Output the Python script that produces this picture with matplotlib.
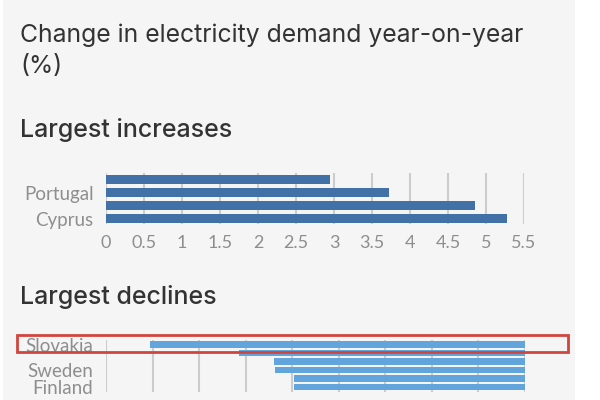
import matplotlib
matplotlib.use("Agg")
import matplotlib.pyplot as plt
from matplotlib.patches import Rectangle

# data
inc_labels = ["", "Portugal", "", "Cyprus"]
inc_values = [2.95, 3.73, 4.86, 5.28]
inc_ticks = [0, 0.5, 1, 1.5, 2, 2.5, 3, 3.5, 4, 4.5, 5, 5.5]

dec_labels = ["Slovakia", "", "", "Sweden", "", "Finland"]
dec_values = [-8.05, -6.15, -5.4, -5.37, -4.97, -4.97]
dec_ticks = [-9, -8, -7, -6, -5, -4, -3, -2, -1, 0]

plt.rcParams['font.family'] = ['Inter', 'DejaVu Sans']

fig = plt.figure(figsize=(6, 4), dpi=100)
fig.patch.set_facecolor("white")
# light grey card behind everything
fig.patches.append(Rectangle((3 / 600, 0), 572 / 600, 1, transform=fig.transFigure,
                             facecolor="#f5f5f5", edgecolor="none", zorder=-10))

fig.text(20 / 600, 1 - 35 / 400, "Change in electricity demand year-on-year",
         fontsize=17.8, color="#333333", va="center", ha="left")
fig.text(20 / 600, 1 - 67 / 400, "(%)", fontsize=17.8, color="#333333", va="center", ha="left")
fig.text(20 / 600, 1 - 130 / 400, "Largest increases", fontsize=18, color="#333333",
         va="center", ha="left", fontweight="medium")
fig.text(20 / 600, 1 - 297 / 400, "Largest declines", fontsize=18, color="#333333",
         va="center", ha="left", fontweight="medium")


def style(ax, ticks):
    ax.set_facecolor("none")
    for s in ax.spines.values():
        s.set_visible(False)
    ax.set_xticks(ticks)
    ax.xaxis.grid(True, color="#cccccc", linewidth=1.5)
    ax.set_axisbelow(True)
    ax.tick_params(length=0, pad=8, labelsize=13, labelcolor="#8e8e8e")
    for t in ax.get_xticklabels() + ax.get_yticklabels():
        t.set_family(['Lato', 'DejaVu Sans'])


ax1 = fig.add_axes([106 / 600, 1 - 224 / 400, 418 / 600, 51 / 400])
pos = list(range(len(inc_values)))
ax1.barh(pos, inc_values, height=0.7, color="#4271a8")
ax1.set_xlim(0, 5.5)
ax1.set_ylim(3 + 5.5 / 13, -0.5)
ax1.set_yticks(pos)
ax1.set_yticklabels(inc_labels)
ax1.set_xticks(inc_ticks)
ax1.set_xticklabels([f"{t:g}" for t in inc_ticks])
style(ax1, inc_ticks)
ax1.tick_params(axis="y", pad=9, labelsize=13.5)

ax2 = fig.add_axes([106 / 600, 1 - 392 / 400, 419 / 600, 52 / 400])
pos2 = list(range(len(dec_values)))
ax2.barh(pos2, dec_values, height=0.72, color="#62a5dd")
ax2.set_xlim(-9, 0)
ax2.set_ylim(5 + 5 / 8.5, -0.53)
ax2.set_yticks(pos2)
ax2.set_yticklabels(dec_labels)
ax2.set_xticks(dec_ticks)
ax2.set_xticklabels([f"{t:g}" for t in dec_ticks])
style(ax2, dec_ticks)
ax2.tick_params(axis="y", pad=9, labelsize=13.5)
ax2.tick_params(axis="x", pad=13)

# highlight box around Slovakia
fig.patches.append(Rectangle((17 / 600, 1 - 352 / 400), 551 / 600, 17 / 400,
                             transform=fig.transFigure, facecolor="none",
                             edgecolor="#d0453d", linewidth=2, zorder=5))

fig.savefig("out.png", dpi=100)
